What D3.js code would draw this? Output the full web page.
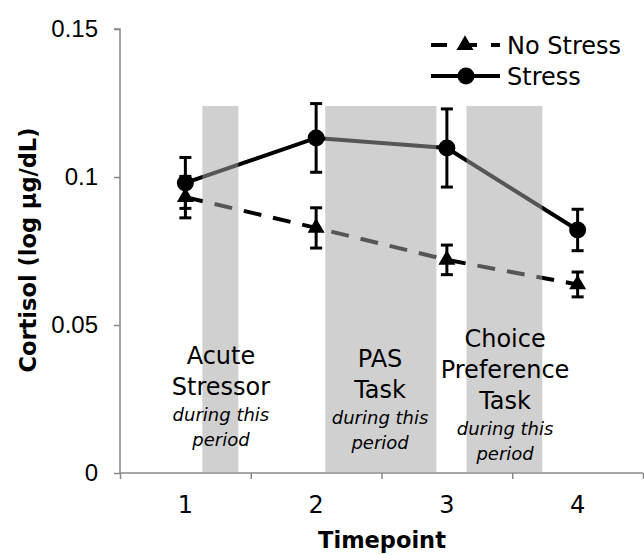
<!DOCTYPE html>
<html>
<head>
<meta charset="utf-8">
<script src="https://cdn.jsdelivr.net/npm/d3@7"></script>
<style>
  body { margin: 0; background: #fff; }
  svg { font-family: "DejaVu Sans", sans-serif; }
</style>
</head>
<body>
<svg id="chart" width="644" height="555"></svg>
<script>
const timepoints = [1, 2, 3, 4];
const stressMean = [0.0980, 0.1132, 0.1098, 0.0821];
const stressErr = [0.0086, 0.0116, 0.0132, 0.0070];
const noStressMean = [0.0932, 0.0828, 0.0720, 0.0637];
const noStressErr = [0.0070, 0.0068, 0.0050, 0.0042];
const yTicks = [0, 0.05, 0.1, 0.15];

// shaded task periods, in timepoint units
const periodStart = [1.13, 2.07, 3.15];
const periodEnd = [1.405, 2.92, 3.73];
const periodTop = 0.124;

const width = 644, height = 555;
const margin = { top: 29, right: 1, bottom: 82, left: 120 };

const svg = d3.select('#chart');

const x = d3.scaleLinear()
  .domain([0.5, 4.5])
  .range([margin.left, width - margin.right]);
const y = d3.scaleLinear()
  .domain([0, 0.15])
  .range([height - margin.bottom, margin.top]);

// y axis
const yAxis = svg.append('g')
  .attr('transform', `translate(${margin.left},0)`)
  .call(d3.axisLeft(y).tickValues(yTicks).tickSize(6).tickPadding(16)
    .tickFormat(d => d === 0 ? '0' : String(d)));
yAxis.selectAll('.domain, line').attr('stroke', '#888').attr('stroke-width', 1.5);
yAxis.select('.domain').attr('d', `M-6,${y(0.15)}H0V${y(0)}`);
yAxis.selectAll('text').attr('font-size', 24).attr('fill', '#000');

// x axis: tick marks at boundaries, labels at centres
const xAxis = svg.append('g')
  .attr('transform', `translate(0,${y(0)})`)
  .call(d3.axisBottom(x).tickValues([0.5, 1.5, 2.5, 3.5, 4.5]).tickSize(6).tickFormat(''));
xAxis.selectAll('.domain, line').attr('stroke', '#888').attr('stroke-width', 1.5);
xAxis.select('.domain').attr('d', `M${x(0.5)},0H${x(4.5)}`);

svg.append('g')
  .selectAll('text')
  .data(timepoints)
  .join('text')
    .attr('x', d => x(d))
    .attr('y', y(0) + 40)
    .attr('text-anchor', 'middle')
    .attr('font-size', 24)
    .text(d => d);

// axis titles
svg.append('text')
  .attr('x', 382)
  .attr('y', 548)
  .attr('text-anchor', 'middle')
  .attr('font-size', 22.5)
  .attr('font-weight', 'bold')
  .text('Timepoint');

svg.append('text')
  .attr('transform', `translate(36,250) rotate(-90)`)
  .attr('text-anchor', 'middle')
  .attr('font-size', 22.5)
  .attr('font-weight', 'bold')
  .text('Cortisol (log µg/dL)');

// series
const line = d3.line()
  .x((d, i) => x(timepoints[i]))
  .y(d => y(d));

function errorBars(means, errs, cls) {
  const g = svg.append('g').attr('class', cls);
  const cap = 6;
  means.forEach((m, i) => {
    const cx = x(timepoints[i]);
    g.append('line')
      .attr('x1', cx).attr('x2', cx)
      .attr('y1', y(m - errs[i])).attr('y2', y(m + errs[i]))
      .attr('stroke', '#000').attr('stroke-width', 3);
    [m - errs[i], m + errs[i]].forEach(v => {
      g.append('line')
        .attr('x1', cx - cap).attr('x2', cx + cap)
        .attr('y1', y(v)).attr('y2', y(v))
        .attr('stroke', '#000').attr('stroke-width', 3);
    });
  });
}

svg.append('path')
  .datum(noStressMean)
  .attr('d', line)
  .attr('fill', 'none')
  .attr('stroke', '#000')
  .attr('stroke-width', 4)
  .attr('stroke-dasharray', '18,12');
errorBars(noStressMean, noStressErr, 'err-nostress');

svg.append('path')
  .datum(stressMean)
  .attr('d', line)
  .attr('fill', 'none')
  .attr('stroke', '#000')
  .attr('stroke-width', 4);
errorBars(stressMean, stressErr, 'err-stress');

const tri = d3.symbol().type(d3.symbolTriangle).size(125);

svg.append('g')
  .selectAll('path')
  .data(noStressMean)
  .join('path')
    .attr('transform', (d, i) => `translate(${x(timepoints[i])},${y(d)})`)
    .attr('d', tri)
    .attr('fill', '#000');

svg.append('g')
  .selectAll('circle')
  .data(stressMean)
  .join('circle')
    .attr('cx', (d, i) => x(timepoints[i]))
    .attr('cy', d => y(d))
    .attr('r', 8.5)
    .attr('fill', '#000');

// shaded periods drawn over the lines
svg.append('g')
  .selectAll('rect')
  .data(periodStart)
  .join('rect')
    .attr('x', d => x(d))
    .attr('width', (d, i) => x(periodEnd[i]) - x(d))
    .attr('y', y(periodTop))
    .attr('height', y(0) - y(periodTop))
    .attr('fill', 'rgb(164,164,164)')
    .attr('fill-opacity', 0.52);

// period annotations
const notes = [
  { cx: 1.272, lines: ['Acute', 'Stressor'], top: 0.0368 },
  { cx: 2.489, lines: ['PAS', 'Task'], top: 0.0358 },
  { cx: 3.445, lines: ['Choice', 'Preference', 'Task'], top: 0.0426 }
];
notes.forEach(n => {
  const t = svg.append('text')
    .attr('text-anchor', 'middle')
    .attr('fill', '#000');
  let yy = y(n.top);
  n.lines.forEach((s, i) => {
    t.append('tspan')
      .attr('x', x(n.cx))
      .attr('y', yy)
      .attr('font-size', 24)
      .text(s);
    yy += 31;
  });
  yy -= 5;
  ['during this', 'period'].forEach(s => {
    t.append('tspan')
      .attr('x', x(n.cx))
      .attr('y', yy)
      .attr('font-size', 18)
      .attr('font-style', 'italic')
      .text(s);
    yy += 25;
  });
});

// legend
const legend = svg.append('g');
const legendItems = [
  { name: 'No Stress', dash: '16,14', sym: 'tri', yy: 45 },
  { name: 'Stress', dash: null, sym: 'circle', yy: 76 }
];
legendItems.forEach(it => {
  legend.append('line')
    .attr('x1', 431).attr('x2', 500)
    .attr('y1', it.yy).attr('y2', it.yy)
    .attr('stroke', '#000')
    .attr('stroke-width', 4)
    .attr('stroke-dasharray', it.dash);
  if (it.sym === 'tri') {
    legend.append('path')
      .attr('transform', `translate(465,${it.yy})`)
      .attr('d', tri)
      .attr('fill', '#000');
  } else {
    legend.append('circle')
      .attr('cx', 466).attr('cy', it.yy).attr('r', 8.5)
      .attr('fill', '#000');
  }
  legend.append('text')
    .attr('x', 507)
    .attr('y', it.yy + 9)
    .attr('font-size', 24)
    .text(it.name);
});
</script>
</body>
</html>
